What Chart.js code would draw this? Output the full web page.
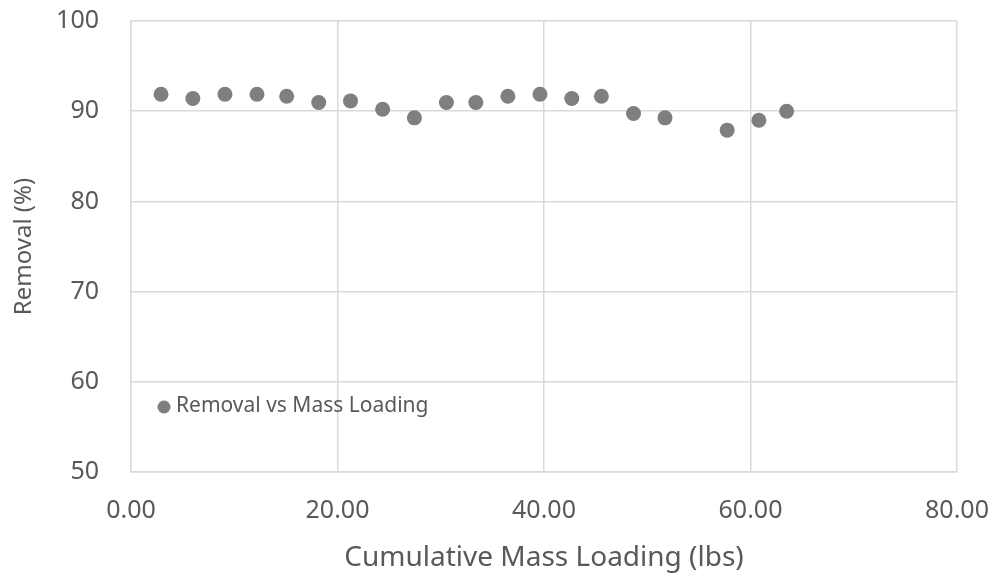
<!DOCTYPE html>
<html>
<head>
<meta charset="utf-8">
<script src="https://cdn.jsdelivr.net/npm/chart.js@4"></script>
<style>
html,body{margin:0;padding:0;background:#fff;}
#wrap{width:994px;height:575px;}
</style>
</head>
<body>
<div id="wrap"><canvas id="c"></canvas></div>
<script>
const seriesLabel = "Removal vs Mass Loading";
const massLoading = [2.91, 5.99, 9.10, 12.20, 15.08, 18.18, 21.26, 24.37, 27.45, 30.55, 33.40, 36.50, 39.61, 42.69, 45.56, 48.67, 51.72, 57.74, 60.81, 63.50];
const removal = [91.88, 91.41, 91.88, 91.88, 91.66, 90.96, 91.14, 90.22, 89.26, 90.96, 90.96, 91.66, 91.88, 91.41, 91.66, 89.75, 89.26, 87.90, 89.00, 90.00];
const xTitle = "Cumulative Mass Loading (lbs)";
const yTitle = "Removal (%)";

const FONT = "'Noto Sans', 'Open Sans', sans-serif";
const TXT = "#595959";
const GRID = "#d9d9d9";
const PT = "#7f7f7f";

const legendInside = {
  id: 'legendInside',
  afterDraw(chart) {
    const ctx = chart.ctx, a = chart.chartArea;
    const ds = chart.data.datasets[0];
    const px = a.left + 33, py = a.bottom - 65;
    ctx.save();
    ctx.fillStyle = PT;
    ctx.beginPath();
    ctx.arc(px, py, 6.5, 0, Math.PI * 2);
    ctx.fill();
    ctx.fillStyle = TXT;
    ctx.font = "21px " + FONT;
    ctx.textBaseline = 'middle';
    ctx.textAlign = 'left';
    ctx.fillText(ds.label, px + 12, py - 1);
    ctx.restore();
  }
};

new Chart(document.getElementById('c'), {
  type: 'scatter',
  data: {
    datasets: [{
      label: seriesLabel,
      data: massLoading.map((x, i) => ({x: x, y: removal[i]})),
      backgroundColor: PT,
      borderColor: PT,
      pointRadius: 7.5,
      pointHoverRadius: 7.5,
      borderWidth: 0
    }]
  },
  options: {
    responsive: true,
    maintainAspectRatio: false,
    animation: false,
    layout: { padding: { top: 21, right: 37, left: 10, bottom: 0 } },
    plugins: { legend: { display: false }, tooltip: { enabled: false } },
    scales: {
      x: {
        type: 'linear',
        min: 0, max: 80,
        ticks: { stepSize: 20, color: TXT, font: { family: FONT, size: 25 }, padding: 24,
                 callback: v => Number(v).toFixed(2) },
        grid: { color: GRID, lineWidth: 1.5, drawTicks: false },
        border: { color: GRID, width: 1.5 },
        title: { display: true, text: xTitle, color: TXT, font: { family: FONT, size: 28 }, padding: { top: 0, bottom: 0 } },
        afterFit(s) { s.height = 103; s.paddingLeft = 0; s.paddingRight = 0; }
      },
      y: {
        min: 50, max: 100,
        ticks: { stepSize: 10, color: TXT, font: { family: FONT, size: 25 }, padding: 32 },
        grid: { color: GRID, lineWidth: 1.5, drawTicks: false },
        border: { color: GRID, width: 1.5 },
        title: { display: true, text: yTitle, color: TXT, font: { family: FONT, size: 24 }, padding: { top: 0, bottom: 0 } },
        afterFit(s) { s.width = 121; s.paddingTop = 0; s.paddingBottom = 0; }
      }
    }
  },
  plugins: [legendInside]
});
</script>
</body>
</html>
